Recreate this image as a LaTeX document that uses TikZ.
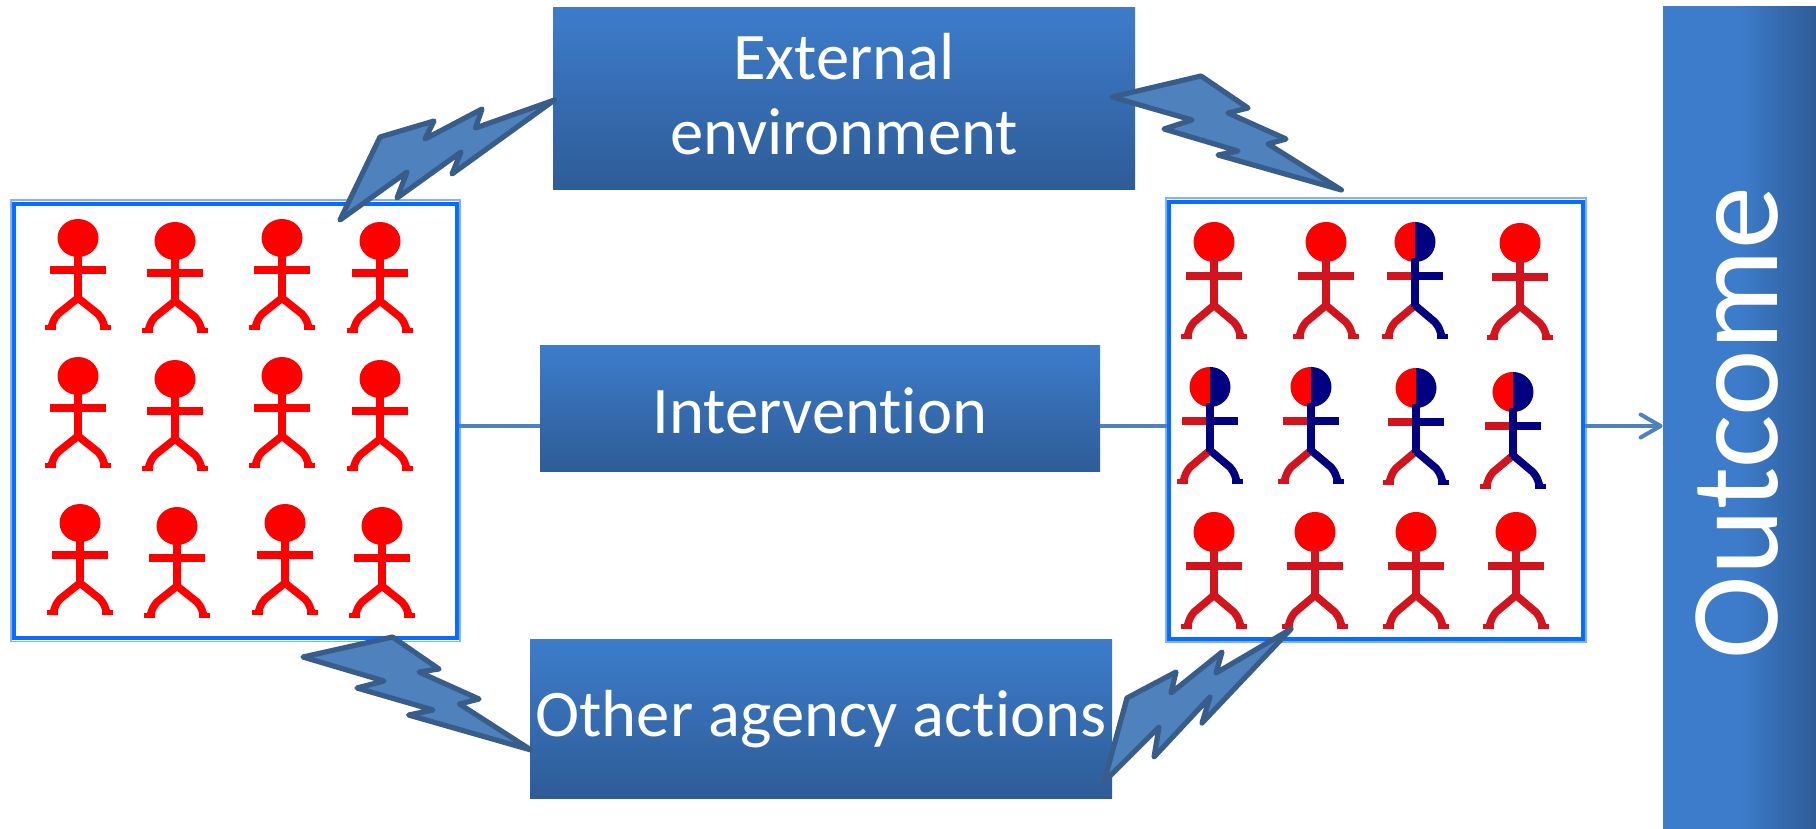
\documentclass[tikz,border=0pt]{standalone}
\usepackage{fontspec}
\setmainfont{Carlito}[Ligatures=NoCommon]
\usetikzlibrary{arrows.meta,positioning}

\definecolor{boxtop}{HTML}{3D7CCB}
\definecolor{boxbot}{HTML}{2E5C97}
\definecolor{linkblue}{HTML}{4F81BD}
\definecolor{boltedge}{HTML}{385D8A}
\definecolor{frameblue}{HTML}{0A6CFF}
\definecolor{framepale}{HTML}{7FB2FF}
\definecolor{manred}{HTML}{FF0000}
\definecolor{limbred}{HTML}{D2141E}
\definecolor{mannavy}{HTML}{000080}

% #1 scope options, #2 #3 head centre, #4 left limbs, #5 right limbs and torso, #6 right of head
\newcommand{\stickman}[6][]{%
  \begin{scope}[shift={(#2,#3)},#1]
    \fill [manred] (0,-19) arc [start angle=270,end angle=90,x radius=20.5,y radius=19] -- cycle;
    \fill [#6] (0,-19) arc [start angle=270,end angle=450,x radius=20.5,y radius=19] -- cycle;
    \draw [manlimb,#4] (0,32) -- (-28,32);
    \draw [manlimb,#4] (0,60) -- (-20,76) .. controls (-24,81) .. (-27,90);
    \fill [#4] (-33,92) rectangle (-22,87);
    \draw [manlimb,#5] (0,32) -- (28,32);
    \draw [manlimb,#5] (0,60) -- (20,76) .. controls (24,81) .. (27,90);
    \fill [#5] (33,92) rectangle (22,87);
    \draw [manlimb,#5] (0,15) -- (0,62);
  \end{scope}}

\begin{document}
\begin{tikzpicture}[x=0.5pt,y=-0.5pt,
    bluebox/.style={inner sep=0pt,top color=boxtop,bottom color=boxbot},
    boxlabel/.style={inner sep=0pt,text=white,align=center,font=\fontsize{33.3}{37.5}\selectfont},
    crowdbox/.style={draw=frameblue,line width=2pt,fill=white,inner sep=0pt},
    palerim/.style={draw=framepale,line width=0.6pt},
    manlimb/.style={line width=3.8pt,line cap=butt,line join=round},
    bolt/.style={draw=boltedge,fill=linkblue,line width=2.6pt,line join=round},
    link/.style={draw=linkblue,line width=2pt},
    bigman/.style={yscale=1.055}]
  \useasboundingbox (0,0) rectangle (1816,829);

  \node (leftbox) [crowdbox,minimum width=221.5pt,minimum height=217pt] at (235.5,421) {};
  \draw [palerim] (11,200) rectangle (460,641.5);
  \node (rightbox) [crowdbox,minimum width=207pt,minimum height=218.5pt] at (1375.5,420) {};
  \draw [palerim] (1166,198) rectangle (1586,642);

  \node (extbox) [bluebox,minimum width=291pt,minimum height=91pt] at (844,99) {};
  \draw (844,94) node (extlabel) [boxlabel] {External\\environment};
  \node (intervbox) [bluebox,minimum width=280pt,minimum height=63pt] at (820,408) {};
  \draw (820,411) node (intervlabel) [boxlabel] {Intervention};
  \node (otherbox) [bluebox,minimum width=291pt,minimum height=79.5pt] at (821,718.5) {};
  \draw (821,719) node (otherlabel) [boxlabel] {Other agency actions};
  \node (outcomebox) [bluebox,left color=boxtop,right color=boxbot,middle color=boxtop,
    minimum width=76.5pt,minimum height=411pt] at (1739.5,418) {};
  \draw (1737,423) node (outcomelabel) [boxlabel,rotate=90,font=\fontsize{63}{70}\selectfont] {Outcome};

  \coordinate (midline) at (0,426);
  \draw [link] (leftbox.east |- midline) -- (intervbox.west |- midline);
  \draw [link] (intervbox.east |- midline) -- (rightbox.west |- midline);
  \draw [link,-{Straight Barb[length=10pt,width=11.5pt,round]}] (rightbox.east |- midline) -- (outcomebox.west |- midline);

  % crowd before
  \stickman{78}{238}{manred}{manred}{manred}
  \stickman{175}{241}{manred}{manred}{manred}
  \stickman{282}{238}{manred}{manred}{manred}
  \stickman{380}{241}{manred}{manred}{manred}
  \stickman{78}{376}{manred}{manred}{manred}
  \stickman{175}{379}{manred}{manred}{manred}
  \stickman{282}{376}{manred}{manred}{manred}
  \stickman{380}{379}{manred}{manred}{manred}
  \stickman{80}{523}{manred}{manred}{manred}
  \stickman{177}{526}{manred}{manred}{manred}
  \stickman{285}{523}{manred}{manred}{manred}
  \stickman{382}{526}{manred}{manred}{manred}

  % crowd after
  \stickman[bigman]{1214}{242}{limbred}{limbred}{manred}
  \stickman[bigman]{1326}{242}{limbred}{limbred}{manred}
  \stickman[bigman]{1415}{242}{limbred}{mannavy}{mannavy}
  \stickman[bigman]{1520}{243}{limbred}{limbred}{manred}
  \stickman[bigman]{1210}{387}{limbred}{mannavy}{mannavy}
  \stickman[bigman]{1311}{387}{limbred}{mannavy}{mannavy}
  \stickman[bigman]{1416}{388}{limbred}{mannavy}{mannavy}
  \stickman[bigman]{1513}{392}{limbred}{mannavy}{mannavy}
  \stickman[bigman]{1214}{532}{limbred}{limbred}{manred}
  \stickman[bigman]{1315}{532}{limbred}{limbred}{manred}
  \stickman[bigman]{1416}{532}{limbred}{limbred}{manred}
  \stickman[bigman]{1516}{532}{limbred}{limbred}{manred}

  % lightning
  \draw [bolt] (340,220) -- (380,137) -- (434,121) -- (425,139) -- (482,109) -- (475.5,128) -- (554.5,100)
    -- (452,174) -- (461,152) -- (397,198) -- (407,172) -- cycle;
  \draw [bolt] (1112,97) -- (1201,76) -- (1248,108) -- (1228,113) -- (1286,139) -- (1268,144) -- (1341.5,190)
    -- (1218,155) -- (1238,151) -- (1164,129) -- (1192,120) -- cycle;
  \draw [bolt] (303,657) -- (392.5,637) -- (439,669) -- (419,672) -- (479,699) -- (459.5,704) -- (531,750)
    -- (408.6,715) -- (433,710) -- (357,688) -- (384,681) -- cycle;
  \draw [bolt] (1291,629) -- (1216,673) -- (1222,652) -- (1171,693) -- (1176,672) -- (1127,698) -- (1104,782)
    -- (1159,727) -- (1154,757) -- (1210,697) -- (1202,723) -- cycle;
\end{tikzpicture}
\end{document}
